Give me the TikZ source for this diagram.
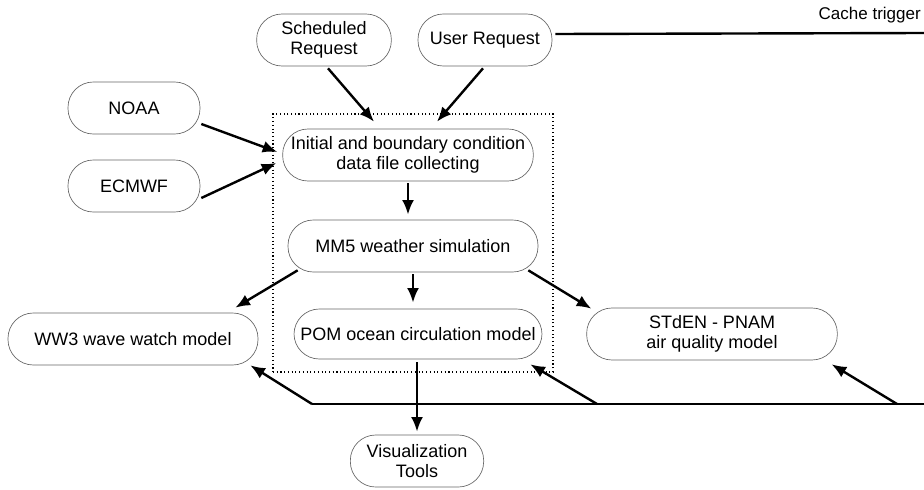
\documentclass[tikz,border=0pt]{standalone}
\usepackage{fontspec}
\setmainfont{Liberation Sans}
\usetikzlibrary{arrows.meta,calc}
\begin{document}
\begin{tikzpicture}[x=0.75pt,y=-0.75pt,
 box/.style={draw=black!60,line width=0.5pt,rounded corners=19pt,minimum height=39pt,align=center,font=\fontsize{13.5}{15.5}\selectfont,inner sep=2pt},
 arr/.style={line width=1.8pt,-{Latex[length=11pt,width=9pt]}},
 ln/.style={line width=1.8pt}]
\useasboundingbox (0,0) rectangle (924,489);
\node[draw,dotted,line width=0.8pt,minimum width=210pt,minimum height=193.5pt,inner sep=0pt] (frame) at (413,243) {};
\node[box,minimum width=101pt] (sched) at (324,40) {Scheduled\\Request};
\node[box,minimum width=100.5pt] (user) at (485,40) {User Request};
\node[box,minimum width=99pt] (noaa) at (134,108) {NOAA};
\node[box,minimum width=99pt] (ecmwf) at (134,186) {ECMWF};
\node[box,minimum width=188pt] (init) at (408,155) {Initial and boundary condition\\data file collecting};
\node[box,minimum width=187.5pt] (mm5) at (413,246) {MM5 weather simulation};
\node[box,minimum width=186pt,minimum height=37.5pt] (pom) at (418,334) {POM ocean circulation model};
\node[box,minimum width=187.5pt] (ww3) at (133,339) {WW3 wave watch model};
\node[box,minimum width=188pt] (stden) at (712,334) {STdEN - PNAM\\air quality model};
\node[box,minimum width=100pt] (vis) at (417,461) {Visualization\\Tools};
\node[font=\fontsize{12.75}{14}\selectfont,anchor=east,inner sep=0pt] (cache) at (921,15) {Cache trigger};

\draw[arr] ($(sched.south)+(4,2)$) -- ($(init.north)+(-34,-7)$);
\draw[arr] ($(user.south)+(-2,2)$) -- ($(init.north)+(29,-7)$);
\draw[arr] ($(noaa.east)+(1,16)$) -- ($(init.west)+(-5,-3)$);
\draw[arr] ($(ecmwf.east)+(1,12)$) -- ($(init.west)+(-6,8)$);
\draw[arr] ($(init.south)+(0,2)$) -- ($(mm5.north)+(-5,-5)$);
\draw[arr] ($(mm5.south)+(0,2)$) -- ($(pom.north)+(-5,-6)$);
\draw[arr] ($(mm5.south west)+(10,-2)$) -- ($(ww3.north east)+(-23,-5)$);
\draw[arr] ($(mm5.south east)+(-10,-2)$) -- ($(stden.north west)+(5,1)$);
\draw[arr] ($(pom.south)+(-1,3)$) -- ($(vis.north)+(0,-3)$);

\coordinate (bR) at (924,404);
\coordinate (bL) at (312,404);
\coordinate (bP) at (597,404);
\coordinate (bS) at (897,404);
\draw[ln] (bR) -- (bL);
\draw[arr] (bL) -- ($(ww3.south east)+(-8,0)$);
\draw[arr] (bP) -- ($(pom.south east)+(-12,5)$);
\draw[arr] (bS) -- ($(stden.south east)+(-6,4)$);

\coordinate (cR) at (924,33);
\draw[ln] ($(user.east)+(3,-6)$) -- (cR);
\end{tikzpicture}
\end{document}
